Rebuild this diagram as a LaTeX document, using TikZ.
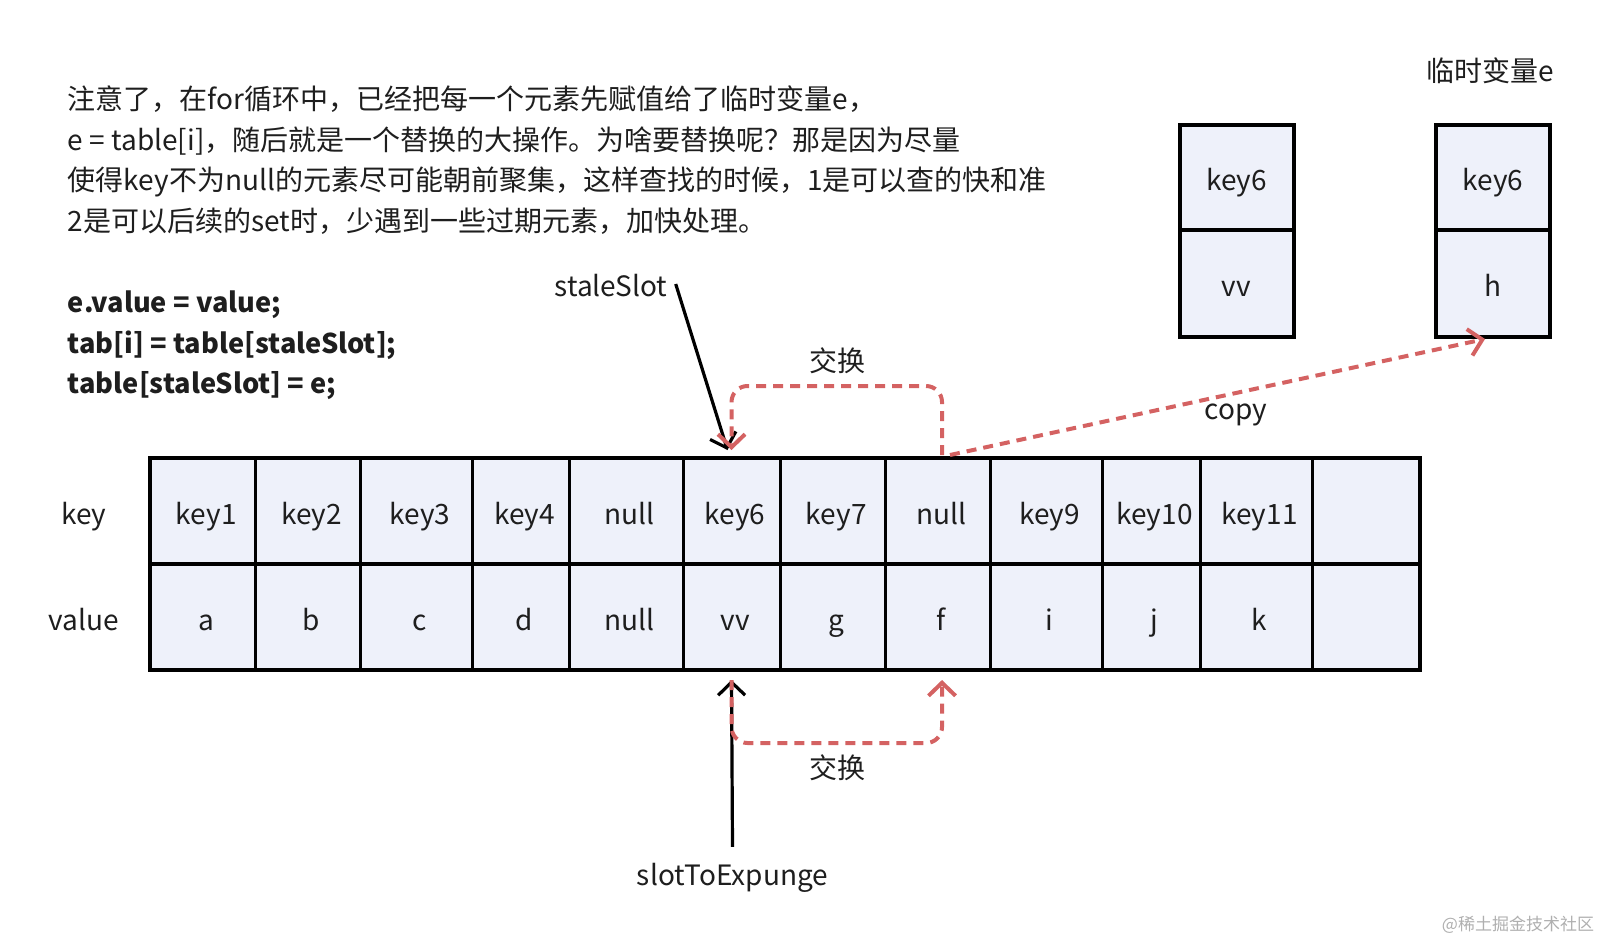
\documentclass[tikz,border=0pt]{standalone}
\usepackage{fontspec}
\setmainfont{Noto Sans CJK SC}
\usetikzlibrary{arrows.meta}
\definecolor{cellfill}{RGB}{238,241,250}
\definecolor{swapred}{RGB}{212,98,98}
\definecolor{txtc}{RGB}{30,30,30}
\definecolor{wmark}{RGB}{175,175,175}
\begin{document}
\begin{tikzpicture}[x=0.5pt,y=-0.5pt,
  txt/.style={text=txtc,inner sep=0pt,font=\fontsize{14pt}{17pt}\selectfont},
  btxt/.style={txt,font=\fontsize{13.6pt}{17pt}\selectfont\bfseries},
  lbl/.style={txt,text height=16pt,text depth=3pt},
  cell/.style={draw=black,line width=1.5pt,fill=cellfill,inner sep=0pt,outer sep=0pt,text=txtc,
    font=\fontsize{14pt}{17pt}\selectfont,text height=16pt,text depth=3pt},
  tcell/.style={cell,execute at begin node={\hspace*{3.5pt}}},
  boxcell/.style={cell,line width=2pt,minimum width=57pt},
  blkarrow/.style={draw=black,line width=1.6pt,-{Straight Barb[length=6.5pt,width=13.5pt]}},
  swap/.style={draw=swapred,line width=2pt,dash pattern=on 5pt off 3.5pt,rounded corners=8pt,
    -{Straight Barb[length=6.5pt,width=13.5pt]}},
]
\path[use as bounding box] (0,0) rectangle (1604,942);

% paragraph
\node[txt,anchor=base west] (p1) at (67.5,109.5) {注意了，在for循环中，已经把每一个元素先赋值给了临时变量e，};
\node[txt,anchor=base west] (p2) at (67.5,150.5) {e = table[i]，随后就是一个替换的大操作。为啥要替换呢？那是因为尽量};
\node[txt,anchor=base west] (p3) at (67.5,190.5) {使得key不为null的元素尽可能朝前聚集，这样查找的时候，1是可以查的快和准};
\node[txt,anchor=base west] (p4) at (67.5,231.5) {2是可以后续的set时，少遇到一些过期元素，加快处理。};

% code lines
\node[btxt,anchor=base west] (c1) at (67.5,312) {e.value = value;};
\node[btxt,anchor=base west] (c2) at (67.5,353) {tab[i] = table[staleSlot];};
\node[btxt,anchor=base west] (c3) at (67.5,393) {table[staleSlot] = e;};

% row labels
\node[lbl] (lkey) at (84,511) {key};
\node[lbl] (lval) at (84,617) {value};

% table
\foreach \a/\b/\k/\v [count=\i] in {150/255.5/key1/a,255.5/360.5/key2/b,360.5/472.5/key3/c,
  472.5/569.5/key4/d,569.5/683/null/null,683/780/key6/vv,780/885.5/key7/g,885.5/990.5/null/f,
  990.5/1102/key9/i,1102/1200/key10/j,1200/1312/key11/k,1312/1420/{}/{}} {
  \node[tcell,minimum width={(\b-\a)*0.5pt},minimum height=53pt] (k\i) at ({(\a+\b)/2},511) {\k};
  \node[tcell,minimum width={(\b-\a)*0.5pt},minimum height=53pt] (v\i) at ({(\a+\b)/2},617) {\v};
}
\draw[line width=2pt] (k1.north west) rectangle (v12.south east);
\draw[line width=2pt] (k1.south west) -- (k12.south east);

% right boxes
\node[txt] (tmpe) at (1490,71) {临时变量e};
\node[boxcell,minimum height=52.5pt] (b1k) at (1236.5,177.5) {key6};
\node[boxcell,minimum height=53.5pt] (b1v) at (1236.5,283.5) {vv};
\node[boxcell,minimum height=52.5pt] (b2k) at (1493,177.5) {key6};
\node[boxcell,minimum height=53.5pt] (b2v) at (1493,283.5) {h};

% staleSlot pointer
\node[txt] (stale) at (611,286) {staleSlot};
\draw[blkarrow] ([xshift=4pt,yshift=1pt]stale.east) -- ([xshift=-2pt,yshift=4pt]k6.north);

% slotToExpunge pointer
\node[txt] (ste) at (732.5,878) {slotToExpunge};
\draw[blkarrow] ([yshift=8pt]ste.north) -- ([yshift=-5pt]v6.south);

% swaps
\node[txt] (swapt) at (837,361) {交换};
\draw[swap] ([xshift=2pt,yshift=1.5pt]k8.north) -- ++(0,-69) -| ([yshift=4pt]k6.north);
\node[txt] (swapb) at (837,768) {交换};
\draw[swap] ([yshift=-5pt]v6.south) -- ++(0,63) -| ([xshift=2pt,yshift=-5pt]v8.south);

% copy
\node[txt] (copy) at (1236,415) {copy};
\draw[swap,rounded corners=0pt] ([xshift=6pt,yshift=1.5pt]k8.north) -- ([xshift=-4pt,yshift=-1pt]b2v.south);

% watermark
\node[text=wmark,inner sep=0pt,font=\fontsize{8.5pt}{10pt}\selectfont] (wm) at (1518,925) {@稀土掘金技术社区};
\end{tikzpicture}
\end{document}
